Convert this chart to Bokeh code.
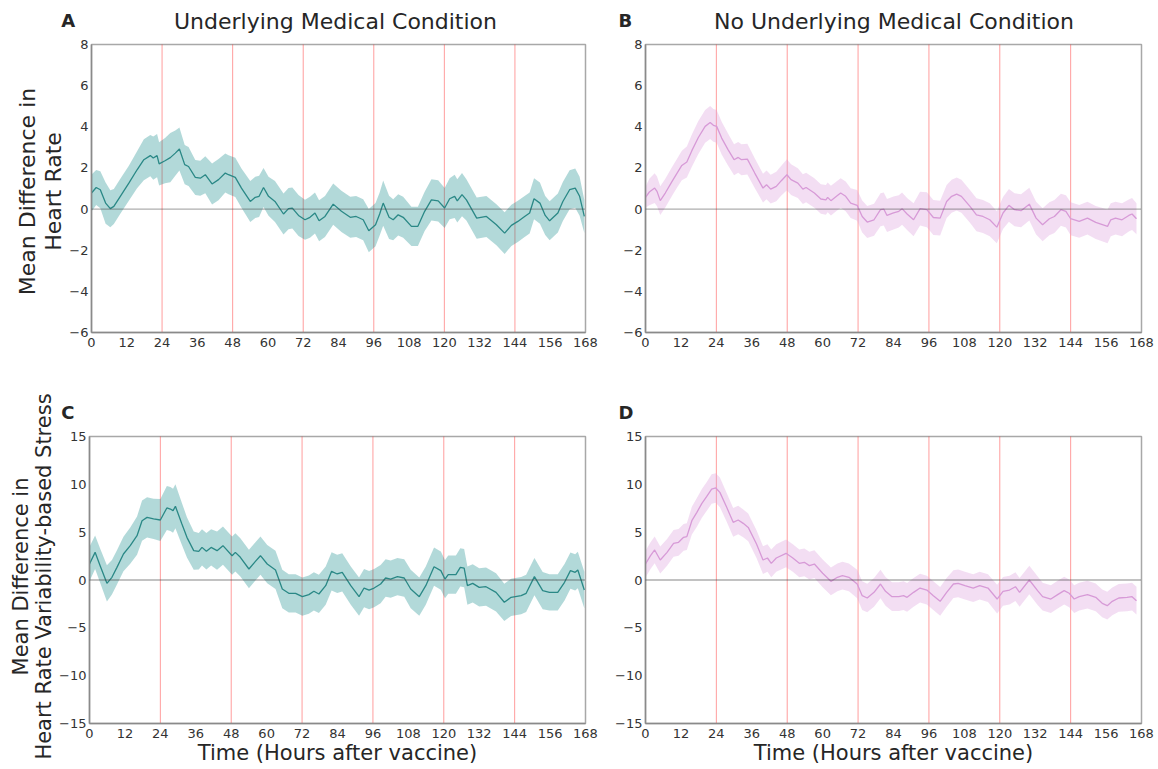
from bokeh.plotting import figure
from bokeh.models import Span, FixedTicker, CustomJSTickFormatter, Range1d
from bokeh.layouts import column, row
from bokeh.core.properties import value
from bokeh.embed import file_html
from bokeh.resources import INLINE
import math

FONT = "DejaVu Sans"

x_ticks = [0, 12, 24, 36, 48, 60, 72, 84, 96, 108, 120, 132, 144, 156, 168]
hr_ticks = [-6, -4, -2, 0, 2, 4, 6, 8]
stress_ticks = [-15, -10, -5, 0, 5, 10, 15]
day_marks = [24, 48, 72, 96, 120, 144]

panel_letters = ["A", "B", "C", "D"]
titles = ["Underlying Medical Condition", "No Underlying Medical Condition"]
ylabel_hr = ["Mean Difference in", "Heart Rate"]
ylabel_stress = ["Mean Difference in", "Heart Rate Variability-based Stress"]
xlabel = "Time (Hours after vaccine)"

# Panel A: heart rate, underlying condition
hours_a = [0, 1.6, 3, 4.8, 6.4, 7.6, 9.8, 12.7, 15.5, 17.8, 20, 21, 22.3, 23, 25, 26.8, 28.5, 29.9, 31.7, 33,
           35.3, 37, 38.7, 41, 43.2, 45.5, 46.6, 48.9, 51, 54, 55.7, 57, 58.5, 60.2, 62.4, 65.3, 67, 68.3, 70.4, 72.6,
           74.3, 76, 77.4, 79.4, 82.2, 85, 88, 90, 92.4, 94.3, 96.6, 98, 99.2, 101.2, 102.6, 104.3, 106, 108.8, 111, 113.3,
           115.6, 117.9, 120.1, 121.8, 123.5, 124.4, 126, 127.5, 131, 134.3, 137.7, 140.5, 142.8, 145, 147.3, 149, 150.5,
           152.5, 154.3, 155.8, 158.6, 160.3, 162.6, 164.5, 166, 167.6]
mean_a = [0.78, 1.05, 0.94, 0.29, 0.02, 0.13, 0.62, 1.26, 1.91, 2.4, 2.6, 2.48, 2.6, 2.2, 2.35, 2.5, 2.72, 2.92, 2.16, 2.07,
          1.54, 1.5, 1.67, 1.22, 1.43, 1.75, 1.67, 1.54, 1.02, 0.37, 0.57, 0.62, 1.05, 0.62, 0.37, -0.24, 0.02, 0.05, -0.31, -0.52,
          -0.4, -0.19, -0.57, -0.36, 0.24, -0.11, -0.4, -0.36, -0.52, -1.05, -0.76, -0.24, 0.29, -0.4, -0.52, -0.28, -0.4, -0.84, -0.84, -0.11,
          0.45, 0.4, 0.05, 0.5, 0.62, 0.4, 0.7, 0.45, -0.44, -0.36, -0.76, -1.17, -0.79, -0.6, -0.36, -0.19, 0.5,
          0.29, -0.31, -0.57, -0.19, 0.37, 0.94, 1.02, 0.62, -0.36]
ci_a = [0.9, 0.85, 0.9, 1.0, 0.9, 0.85, 0.85, 0.85, 0.9, 1.0, 1.0, 1.05, 1.05, 1.05, 1.1, 1.2, 1.1, 1.05, 0.95, 0.95,
        0.85, 0.85, 0.9, 1.0, 1.0, 0.95, 0.95, 0.95, 0.95, 1.0, 1.0, 1.0, 0.95, 0.95, 1.0, 1.0, 1.0, 1.0, 1.0, 0.97,
        1.0, 1.0, 1.0, 1.0, 1.0, 1.0, 1.0, 1.0, 1.0, 1.05, 1.05, 1.05, 1.1, 1.05, 1.0, 1.0, 1.0, 0.95, 0.95, 0.95,
        1.0, 1.0, 0.97, 1.0, 1.05, 1.05, 1.05, 1.0, 1.0, 1.0, 1.0, 1.02, 1.0, 1.0, 1.0, 1.0, 1.0,
        1.0, 0.95, 0.95, 0.95, 0.95, 0.95, 0.95, 0.95, 0.8]

# Panel B: heart rate, no underlying condition
hours_b = [0, 1.3, 3.1, 3.9, 5, 6.7, 9, 10.7, 12.3, 14, 15.7, 17.9, 20.2, 21.9, 23, 24.1, 25.8, 28, 30, 31.4,
           32.5, 34.5, 37, 39.8, 41, 42.4, 44.3, 46, 47.9, 49.3, 51.6, 53.3, 54.4, 57.2, 59.4, 61.1, 61.7, 62.8, 65, 66.1,
           67.8, 69.5, 71.7, 73.4, 75.1, 77.4, 79.6, 80.7, 81.8, 84, 85.8, 86.9, 88.6, 90.8, 93, 95.3, 97.5, 99.8, 102, 103.7,
           105.4, 107, 109.9, 112.1, 114.3, 116.6, 119, 121.1, 123.1, 125, 127.2, 130, 132.3, 134.5, 136.8, 138.5, 140.7, 142.4, 144, 146.9,
           149.7, 152.5, 156.5, 157.6, 159.2, 161.4, 163.7, 164.8, 166.3]
mean_b = [0.57, 0.83, 1.02, 0.86, 0.41, 0.78, 1.35, 1.75, 2.12, 2.29, 2.84, 3.48, 4.02, 4.21, 4.07, 4.02, 3.45, 2.88, 2.4, 2.51,
          2.4, 2.43, 1.75, 1.02, 1.18, 0.97, 1.1, 1.38, 1.67, 1.43, 1.26, 0.97, 1.05, 0.78, 0.49, 0.45, 0.57, 0.41, 0.66, 0.78,
          0.62, 0.29, 0.18, -0.36, -0.63, -0.52, -0.03, 0, -0.31, -0.19, -0.11, 0.02, -0.24, -0.52, 0.02, -0.03, -0.41, -0.44, 0.37, 0.62,
          0.73, 0.62, 0.13, -0.28, -0.36, -0.52, -0.88, -0.19, 0.18, -0.03, -0.08, 0.24, -0.44, -0.76, -0.47, -0.36, -0.03, -0.11, -0.47, -0.6,
          -0.44, -0.65, -0.84, -0.52, -0.44, -0.52, -0.31, -0.24, -0.47]
ci_b = [0.5, 0.65, 0.72, 0.72, 0.7, 0.7, 0.7, 0.7, 0.72, 0.75, 0.78, 0.8, 0.8, 0.8, 0.8, 0.8, 0.8, 0.78, 0.75, 0.75,
        0.75, 0.75, 0.72, 0.7, 0.7, 0.7, 0.72, 0.72, 0.75, 0.75, 0.72, 0.72, 0.72, 0.72, 0.72, 0.72, 0.72, 0.72, 0.72, 0.72,
        0.72, 0.72, 0.75, 0.78, 0.78, 0.78, 0.8, 0.8, 0.8, 0.8, 0.78, 0.78, 0.78, 0.8, 0.82, 0.85, 0.85, 0.85, 0.8, 0.8,
        0.8, 0.8, 0.8, 0.8, 0.8, 0.8, 0.78, 0.78, 0.8, 0.8, 0.8, 0.8, 0.8, 0.8, 0.8, 0.8, 0.78, 0.78, 0.8, 0.8,
        0.8, 0.8, 0.82, 0.8, 0.8, 0.8, 0.78, 0.78, 0.75]

# Panel C: HRV-based stress, underlying condition
hours_c = [0, 1.9, 3.6, 5.9, 7.6, 9.3, 11.5, 13.8, 16.1, 17.8, 19.5, 21.7, 24, 26.2, 27.4, 28.3, 29.1, 31.3, 33, 35.3,
           37, 38.1, 39.6, 41.2, 43.2, 45.2, 48.3, 49.4, 51.1, 54, 56.2, 57.9, 60.2, 63, 65.3, 67.5, 69.8, 72.1, 74.3, 76,
           77.7, 80, 82, 83.9, 85.6, 88.5, 91.3, 93, 94.7, 96.4, 98.6, 100.3, 102, 104.3, 106.6, 108.8, 111.7, 113.9, 116.7, 119,
           120.4, 121.5, 124.1, 125.6, 126.9, 128, 129.8, 132, 134.3, 137.7, 140.5, 142.8, 146.2, 147.9, 150.7, 153.5, 155.8, 158.6, 160.9, 162.9,
           164.5, 165.4, 167.6]
mean_c = [1.67, 2.89, 1.5, -0.35, 0.28, 1.32, 2.72, 3.59, 4.63, 6.2, 6.55, 6.38, 6.27, 7.53, 7.42, 7.25, 7.7, 5.85, 4.46, 3.07,
          3.0, 3.41, 3.0, 3.41, 3.07, 3.59, 2.54, 2.89, 2.37, 1.15, 1.95, 2.54, 1.67, 1.05, -0.94, -1.39, -1.39, -1.74, -1.53, -1.18,
          -1.46, -0.59, 0.91, 0.63, 0.8, -0.59, -1.74, -0.84, -1.05, -0.84, -0.42, 0.21, 0.1, 0.35, 0.21, -0.94, -1.74, -0.59, 1.39, 0.98,
          0.1, 0.56, 0.56, 1.32, 1.25, -0.59, -0.35, -0.77, -0.7, -1.29, -2.33, -1.81, -1.64, -1.39, 0.35, -1.11, -1.29, -1.29, -0.24, 0.98,
          0.8, 1.05, -1.05]
ci_c = [1.8, 1.75, 1.8, 1.9, 1.8, 1.8, 1.8, 1.9, 2.0, 2.1, 2.1, 2.1, 2.2, 2.3, 2.3, 2.3, 2.3, 2.2, 2.1, 2.0,
        1.9, 1.9, 1.9, 1.9, 2.0, 2.0, 2.0, 2.0, 2.0, 2.0, 2.0, 2.0, 2.0, 2.0, 2.0, 2.0, 2.0, 2.0, 2.0, 2.0,
        2.0, 2.0, 2.0, 2.0, 2.0, 2.0, 2.0, 2.0, 2.0, 2.0, 2.0, 1.95, 1.95, 1.95, 1.95, 2.0, 2.0, 2.0, 2.0, 2.0,
        2.0, 2.0, 2.0, 2.0, 2.0, 2.0, 2.0, 2.0, 2.0, 2.0, 1.95, 1.95, 1.95, 1.95, 1.95, 1.95, 1.9, 1.9, 1.9, 1.9,
        1.9, 1.9, 1.9]

# Panel D: HRV-based stress, no underlying condition
hours_d = [0, 1.7, 3.1, 5, 7.3, 9.5, 11.2, 12.9, 14, 15.7, 17.4, 19.1, 20.7, 22.4, 23.8, 25.2, 27.5, 29.7, 31.4, 33.1,
           34.8, 37.6, 39.8, 41.3, 42.6, 44.3, 47.6, 49.9, 52.1, 53.8, 55.5, 57.2, 60, 62.8, 65, 66.7, 68.9, 71.7, 73.4, 75.1,
           77.4, 79.6, 81.3, 83.5, 85.8, 87.4, 88.6, 90.8, 93, 95.3, 97.5, 99.8, 102, 104.3, 105.9, 108.2, 111, 113.2, 116, 119.1,
           121.1, 123.3, 125.3, 126.7, 130, 132.8, 134.5, 137.3, 139.6, 141.8, 143.5, 145.2, 146.9, 149.7, 152.5, 154.7, 156.4, 158.1, 160.3, 163.1,
           164.8, 166.3]
mean_d = [1.67, 2.54, 3.14, 2.09, 2.89, 3.83, 3.94, 4.46, 4.53, 6.2, 7.07, 8.01, 8.71, 9.51, 9.62, 9.16, 7.6, 6.03, 6.27, 5.92,
          5.5, 3.76, 2.09, 2.3, 1.74, 2.3, 2.79, 2.3, 1.74, 1.85, 1.5, 1.67, 0.7, -0.14, 0.28, 0.45, 0.28, -0.42, -1.64, -1.88,
          -1.29, -0.42, -1.18, -1.74, -1.74, -1.64, -1.81, -1.29, -0.84, -1.05, -1.64, -2.23, -1.29, -0.42, -0.35, -0.59, -0.84, -0.59, -0.84, -1.99,
          -1.18, -1.05, -0.7, -1.29, 0, -1.11, -1.74, -1.99, -1.53, -1.11, -1.39, -1.99, -1.74, -1.53, -1.81, -2.44, -2.68, -2.23, -1.88, -1.81,
          -1.74, -2.16]
ci_d = [1.4, 1.4, 1.4, 1.4, 1.4, 1.4, 1.4, 1.4, 1.4, 1.45, 1.5, 1.5, 1.5, 1.55, 1.55, 1.55, 1.5, 1.5, 1.5, 1.45,
        1.45, 1.45, 1.45, 1.45, 1.45, 1.45, 1.45, 1.45, 1.45, 1.45, 1.45, 1.45, 1.45, 1.45, 1.45, 1.45, 1.45, 1.5, 1.5, 1.5,
        1.5, 1.5, 1.5, 1.5, 1.5, 1.5, 1.5, 1.5, 1.5, 1.5, 1.5, 1.5, 1.5, 1.45, 1.45, 1.45, 1.45, 1.45, 1.45, 1.5,
        1.5, 1.5, 1.5, 1.5, 1.5, 1.5, 1.45, 1.45, 1.45, 1.45, 1.45, 1.45, 1.45, 1.45, 1.45, 1.45, 1.45, 1.45, 1.45, 1.45,
        1.45, 1.45]

TEAL_LINE = "#2a8886"
TEAL_FILL = "#008080"
PINK_LINE = "#d79ad7"
PINK_FILL = "#dda0dd"
TEXT = "#262626"

minus_fmt = "return tick < 0 ? '\\u2212' + (-tick) : '' + tick;"


def blank(width, height, yspan=None):
    """A bare canvas whose data units are pixels, y measured upward from the frame bottom."""
    p = figure(width=width, height=height, output_backend="svg", toolbar_location=None, title=None,
               x_range=Range1d(0, width), y_range=Range1d(0, yspan or height),
               x_axis_location=None, y_axis_location=None, min_border=0)
    p.outline_line_color = None
    p.grid.visible = False
    p.background_fill_color = "white"
    p.border_fill_color = "white"
    return p


def header(width, height, letters, letter_x, letter_y, heads=None, head_x=None, head_y=None):
    p = blank(width, height)
    p.text(x=letter_x, y=[letter_y] * len(letters), text=letters,
           text_font=value(FONT), text_font_size="18px", text_font_style="bold",
           text_color=TEXT, text_align="left", text_baseline="alphabetic")
    if heads:
        p.text(x=head_x, y=[head_y] * len(heads), text=heads,
               text_font=value(FONT), text_font_size="22px", text_font_style="normal",
               text_color=TEXT, text_align="center", text_baseline="alphabetic")
    return p


def ylabel_fig(width, height, yspan, lines, line_x, center_y, size):
    p = blank(width, height, yspan)
    p.text(x=line_x, y=[center_y] * len(lines), text=lines, angle=math.pi / 2,
           text_font=value(FONT), text_font_size=size, text_color=TEXT,
           text_align="center", text_baseline="middle")
    return p


def panel(width, height, bl, br, bt, bb, ylim, yticks, hours, mean, ci, lc, fc, falpha, with_xlabel):
    p = figure(width=width, height=height, output_backend="svg", toolbar_location=None, title=None,
               x_range=Range1d(0, 168), y_range=Range1d(*ylim),
               min_border_left=bl, min_border_right=br, min_border_top=bt, min_border_bottom=bb)
    p.background_fill_color = "white"
    p.border_fill_color = "white"
    p.xgrid.visible = False
    p.ygrid.visible = False
    p.outline_line_color = "#a8a8a8"
    p.outline_line_width = 1.5

    lower = [m - c for m, c in zip(mean, ci)]
    upper = [m + c for m, c in zip(mean, ci)]

    for d in day_marks:
        p.add_layout(Span(location=d, dimension="height", line_color="#ff1a1a", line_alpha=0.85,
                          line_dash="1 1", line_width=1, level="underlay"))

    p.varea(x=hours, y1=lower, y2=upper, fill_color=fc, fill_alpha=falpha)
    p.line(x=hours, y=mean, line_color=lc, line_width=1.3)
    p.add_layout(Span(location=0, dimension="width", line_color="#444444", line_alpha=0.85,
                      line_dash="1 1", line_width=1.3))

    for ax in (p.xaxis[0], p.yaxis[0]):
        ax.major_tick_line_color = None
        ax.minor_tick_line_color = None
        ax.major_tick_out = 0
        ax.major_tick_in = 0
        ax.minor_tick_out = 0
        ax.minor_tick_in = 0
        ax.axis_line_color = "#8a8a8a"
        ax.axis_line_width = 1.5
        ax.major_label_text_font = FONT
        ax.major_label_text_font_size = "13px"
        ax.major_label_text_color = "#333333"
        ax.formatter = CustomJSTickFormatter(code=minus_fmt)
    p.xaxis.ticker = FixedTicker(ticks=x_ticks)
    p.yaxis.ticker = FixedTicker(ticks=yticks)
    p.xaxis.major_label_standoff = 5
    p.yaxis.major_label_standoff = 3

    if with_xlabel:
        p.xaxis.axis_label = xlabel
        p.xaxis.axis_label_text_font = FONT
        p.xaxis.axis_label_text_font_size = "21px"
        p.xaxis.axis_label_text_font_style = "normal"
        p.xaxis.axis_label_text_color = TEXT
        p.xaxis.axis_label_standoff = 0
    return p


# Row 1 (page y 0..380); header texts sit ~6px below their anchor, so anchors are raised by 6px
head1 = header(1158, 34, panel_letters[:2], [60.7, 618], 34 - 20, titles, [335, 893.5], 34 - 21)
# the label canvas' frame is aligned with the panel frame (page y 44..332, 288px)
labA = ylabel_fig(66, 346, 288, ylabel_hr, [27, 53], 332 - 191, "22px")
pA = panel(534, 346, 21, 15, 10, 48, (-6, 8), hr_ticks, hours_a, mean_a, ci_a, TEAL_LINE, TEAL_FILL, 0.3, False)
pB = panel(558, 346, 45, 17, 10, 48, (-6, 8), hr_ticks, hours_b, mean_b, ci_b, PINK_LINE, PINK_FILL, 0.35, False)

# Row 2 (page y 380..769)
labC = ylabel_fig(56, 389, None, ylabel_stress, [20, 43], 769 - 576, "21px")
head2 = header(1102, 44, panel_letters[2:], [60.7 - 56, 618 - 56], 44 - (418 - 380 - 6))
pC = panel(544, 345, 31, 15, 12, 46, (-15, 15), stress_ticks, hours_c, mean_c, ci_c, TEAL_LINE, TEAL_FILL, 0.3, True)
pD = panel(558, 345, 45, 17, 12, 46, (-15, 15), stress_ticks, hours_d, mean_d, ci_d, PINK_LINE, PINK_FILL, 0.35, True)

layout = column(head1,
                row(labA, pA, pB),
                row(labC, column(head2, row(pC, pD))))

with open("out.html", "w") as f:
    f.write(file_html(layout, INLINE))
